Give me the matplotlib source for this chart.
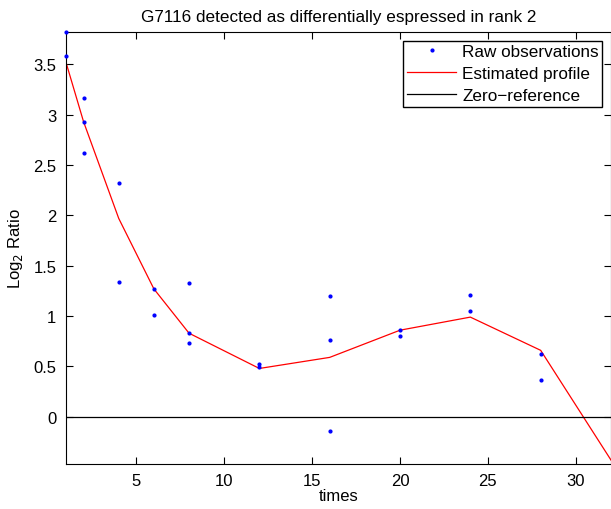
import matplotlib
matplotlib.use('Agg')
import matplotlib.pyplot as plt

plt.rcParams['font.family'] = ['Liberation Sans', 'DejaVu Sans']

# raw observations (time, log2 ratio)
obs_t = [1, 1, 2, 2, 2, 4, 4, 6, 6, 8, 8, 8, 12, 12, 16, 16, 16, 20, 20, 24, 24, 28, 28]
obs_y = [3.82, 3.58, 3.17, 2.93, 2.62, 2.32, 1.34, 1.27, 1.01, 1.33, 0.83, 0.73,
         0.52, 0.49, 1.20, 0.76, -0.14, 0.86, 0.80, 1.21, 1.05, 0.62, 0.37]

# estimated profile
prof_t = [1, 2, 4, 6, 8, 12, 16, 20, 24, 28, 32]
prof_y = [3.52, 2.93, 1.97, 1.27, 0.83, 0.48, 0.59, 0.86, 0.99, 0.66, -0.43]

fig = plt.figure(figsize=(6.11, 5.10), dpi=100)
ax = fig.add_axes([0.108, 0.089, 0.892, 0.846])

ax.plot(obs_t, obs_y, '.', color='blue', markersize=4, label='Raw observations', clip_on=False, zorder=4)
ax.plot(prof_t, prof_y, '-', color='red', linewidth=0.9, label='Estimated profile')
ax.axhline(0, color='black', linewidth=0.9, label='Zero\u2212reference')

ax.set_xlim(1, 32)
ax.set_ylim(-0.465, 3.82)
ax.set_xticks([5, 10, 15, 20, 25, 30])
ax.set_yticks([0, 0.5, 1, 1.5, 2, 2.5, 3, 3.5])
ax.set_yticklabels(['0', '0.5', '1', '1.5', '2', '2.5', '3', '3.5'])
ax.tick_params(direction='in', top=True, right=True, labelsize=12, length=5, pad=7)
for s in ax.spines.values():
    s.set_linewidth(0.8)

ax.set_xlabel('times', fontsize=12, labelpad=0)
ax.set_ylabel('Log$_2$ Ratio', fontsize=12, labelpad=6)
ax.set_title('G7116 detected as differentially espressed in rank 2', fontsize=12.3, pad=8)

leg = ax.legend(loc='upper right', fontsize=12.3, fancybox=False, framealpha=1,
                edgecolor='black', borderaxespad=0.5, handlelength=2.9,
                borderpad=0.2, labelspacing=0.42, handletextpad=0.35)
leg.get_frame().set_linewidth(1.0)

fig.savefig('out.png', dpi=100)
